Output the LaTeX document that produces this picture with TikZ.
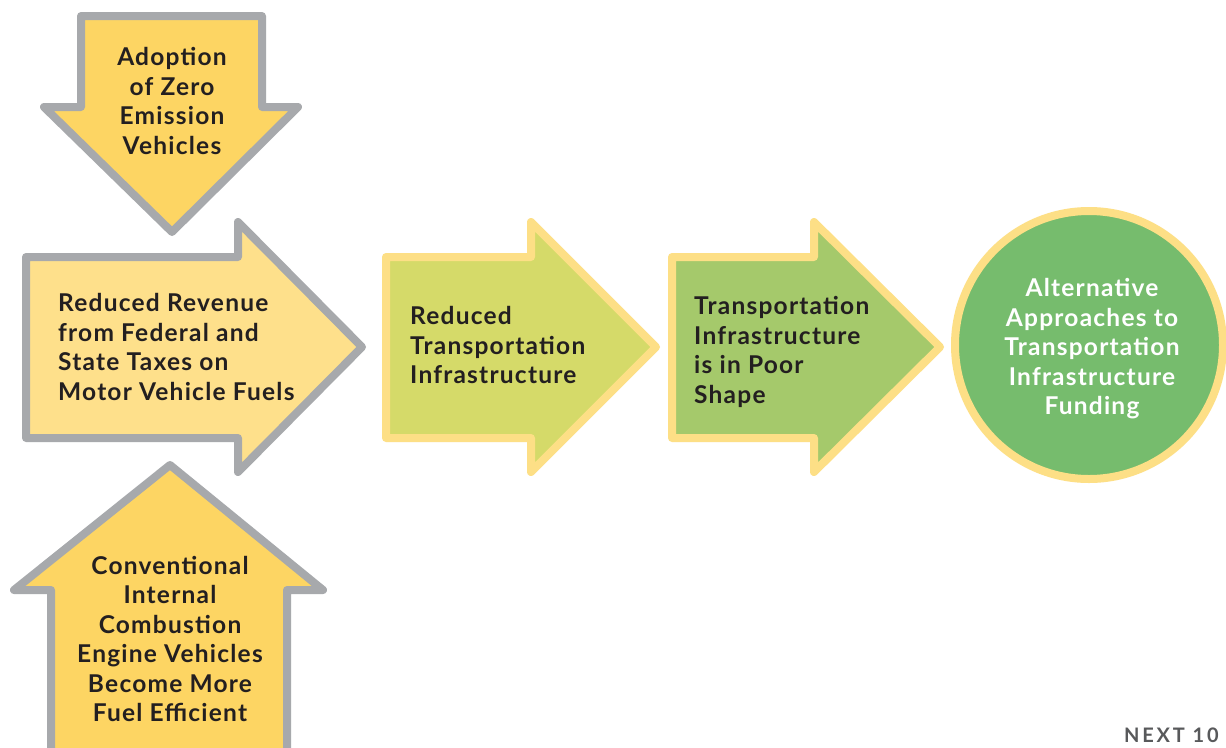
\documentclass[tikz,border=0pt]{standalone}
\usepackage{fontspec}
\setmainfont{Lato}
\definecolor{txt}{HTML}{231F20}
\definecolor{grayedge}{HTML}{A7A9AC}
\definecolor{yellowedge}{HTML}{FDDF86}
\definecolor{gold}{HTML}{FDD563}
\definecolor{paleyellow}{HTML}{FEE08B}
\definecolor{lime}{HTML}{D5DA69}
\definecolor{leaf}{HTML}{A5C96B}
\definecolor{grass}{HTML}{76BC6D}
\definecolor{brand}{HTML}{58595B}
\tikzset{
  shape edge/.style={line width=8pt, line join=round},
  grayarrow/.style={shape edge, draw=grayedge},
  yellowarrow/.style={shape edge, draw=yellowedge},
  label text/.style={text=txt, inner sep=0pt,
    font=\fontsize{24.5}{29.5}\selectfont\bfseries\addfontfeatures{LetterSpace=5}},
}
\begin{document}
\begin{tikzpicture}[x=1pt, y=-1pt]
\useasboundingbox (0,0) rectangle (1226,747);
\fill[white] (0,0) rectangle (1226,747);

% feeding arrows (gray outline)
\draw[grayarrow, fill=gold]
  (81,16) -- (262,16) -- (262,107) -- (298,107) -- (172,232)
  -- (44,107) -- (81,107) -- cycle;
\draw[grayarrow, fill=paleyellow]
  (26,257) -- (238,257) -- (238,222) -- (362,347) -- (238,472)
  -- (238,438) -- (26,438) -- cycle;
\draw[grayarrow, fill=gold]
  (170,465) -- (323,590) -- (287,590) -- (287,770) -- (51,770)
  -- (51,590) -- (14,590) -- cycle;

% main chain (yellow outline)
\draw[yellowarrow, fill=lime]
  (386,257) -- (531,257) -- (531,222) -- (656,347) -- (531,472)
  -- (531,438) -- (386,438) -- cycle;
\draw[yellowarrow, fill=leaf]
  (672,257) -- (814,257) -- (814,222) -- (940,347) -- (814,472)
  -- (814,438) -- (672,438) -- cycle;
\draw[yellowarrow, fill=grass] (1089,345) circle[radius=134];

% labels
\node[label text, align=center] (zev) at (172,101)
  {Adoption\\of Zero\\Emission\\Vehicles};
\node[label text, align=left, anchor=west] (rev) at (58,347)
  {Reduced Revenue\\from Federal and\\State Taxes on\\Motor Vehicle Fuels};
\node[label text, align=center] (ice) at (170,639)
  {Conventional\\Internal\\Combustion\\Engine Vehicles\\Become More\\Fuel Efficient};
\node[label text, align=left, anchor=west] (rti) at (410,345)
  {Reduced\\Transportation\\Infrastructure};
\node[label text, align=left, anchor=west] (poor) at (694,352)
  {Transportation\\Infrastructure\\is in Poor\\Shape};
\node[label text, align=center, text=white] (alt) at (1092,349)
  {Alternative\\Approaches to\\Transportation\\Infrastructure\\Funding};

\node[anchor=base west, inner sep=0pt, text=brand,
  font=\fontsize{20}{20}\selectfont\bfseries\addfontfeatures{LetterSpace=14}] (brandmark)
  at (1124,742) {NEXT 10};
\end{tikzpicture}
\end{document}
